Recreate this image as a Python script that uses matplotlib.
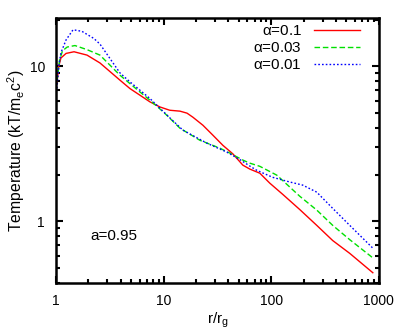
import numpy as np
import matplotlib
matplotlib.use('Agg')
import matplotlib.pyplot as plt
from matplotlib.ticker import LogLocator, NullFormatter, FixedLocator, FixedFormatter

plt.rcParams['font.family'] = ['Liberation Sans', 'DejaVu Sans']
plt.rcParams['mathtext.fontset'] = 'custom'
plt.rcParams['mathtext.rm'] = 'Liberation Sans'
plt.rcParams['mathtext.it'] = 'Liberation Sans'

# values
r_red = [1.02, 1.06, 1.11, 1.24, 1.47, 1.94, 2.56, 3.93, 4.86, 6.03, 7.46, 9.24, 11.4, 14.2,
         16.5, 18.7, 23.2, 28.7, 35.5, 44.0, 54.5, 63.2, 78.4, 97, 128, 184, 265, 373, 537, 880]
T_red = [7.8, 10.0, 11.3, 12.1, 12.4, 11.8, 10.5, 8.13, 7.18, 6.50, 5.89, 5.46, 5.20, 5.13,
         4.98, 4.69, 4.16, 3.59, 3.09, 2.72, 2.30, 2.17, 2.04, 1.76, 1.49, 1.19, 0.94, 0.75,
         0.62, 0.465]

r_green = [1.02, 1.08, 1.15, 1.27, 1.50, 1.94, 2.56, 3.93, 4.86, 6.03, 7.46, 9.24, 10.7,
           14.2, 21.7, 33.3, 41.3, 54.5, 63.2, 78.4, 113, 184, 265, 373, 537, 880]
T_green = [8.0, 11.0, 12.6, 13.3, 13.6, 12.8, 11.8, 8.75, 7.73, 6.82, 6.04, 5.30, 4.83,
           3.98, 3.33, 2.96, 2.75, 2.48, 2.37, 2.26, 1.98, 1.45, 1.18, 0.94, 0.76, 0.58]

r_blue = [1.02, 1.06, 1.11, 1.24, 1.44, 1.74, 2.25, 2.56, 3.93, 4.86, 6.03, 7.46, 9.24,
          11.4, 15.1, 25.2, 38.7, 51.1, 63.2, 73.5, 103, 149, 196, 265, 373, 537, 880]
T_blue = [7.2, 10.0, 12.2, 14.8, 17.2, 16.8, 15.1, 13.9, 9.05, 7.93, 7.0, 6.19, 5.36,
          4.65, 3.87, 3.19, 2.79, 2.50, 2.27, 2.13, 1.92, 1.79, 1.71, 1.54, 1.21, 0.94, 0.67]

labels = [r'$\alpha$=0.1', r'$\alpha$=0.03', r'$\alpha$=0.01']

fig = plt.figure(figsize=(4.06, 3.32), dpi=100)
ax = fig.add_axes([0.138, 0.148, 0.795, 0.798])

ax.plot(r_red, T_red, color='#ff0000', lw=1.0, label=labels[0])
ax.plot(r_green, T_green, color='#00e000', lw=1.0, ls=(0, (4, 2)), label=labels[1])
ax.plot(r_blue, T_blue, color='#0000ff', lw=1.0, ls=(0, (1.2, 1.5)), label=labels[2])

ax.set_xscale('log')
ax.set_yscale('log')
ax.set_xlim(1, 1000)
ax.set_ylim(0.4, 20.5)

ax.xaxis.set_major_locator(FixedLocator([1, 10, 100, 1000]))
ax.xaxis.set_major_formatter(FixedFormatter(['1', '10', '100', '1000']))
ax.xaxis.set_minor_locator(LogLocator(base=10, subs=np.arange(2, 10)))
ax.xaxis.set_minor_formatter(NullFormatter())
ax.yaxis.set_major_locator(FixedLocator([1, 10]))
ax.yaxis.set_major_formatter(FixedFormatter(['1', '10']))
ax.yaxis.set_minor_locator(LogLocator(base=10, subs=np.arange(2, 10)))
ax.yaxis.set_minor_formatter(NullFormatter())

ax.tick_params(which='both', direction='in', top=True, right=True, width=1.5, labelsize=10)
ax.tick_params(which='major', length=5, pad=8)
ax.tick_params(which='minor', length=3)
for s in ax.spines.values():
    s.set_linewidth(1.8)

ax.set_xlabel('r/r$_\\mathrm{g}$', fontsize=11, labelpad=2)
ax.set_ylabel('Temperature (kT/m$_\\mathrm{e}$c$^2$)', fontsize=11.3, labelpad=2)
ax.text(0.105, 0.16, 'a=0.95', transform=ax.transAxes, fontsize=11)

ax.legend(loc='upper right', bbox_to_anchor=(0.96, 1.0), frameon=False, markerfirst=False,
          fontsize=11, handlelength=3.0, labelspacing=0.2, borderaxespad=0.0,
          handletextpad=0.8)

fig.savefig('out.png', dpi=100)
